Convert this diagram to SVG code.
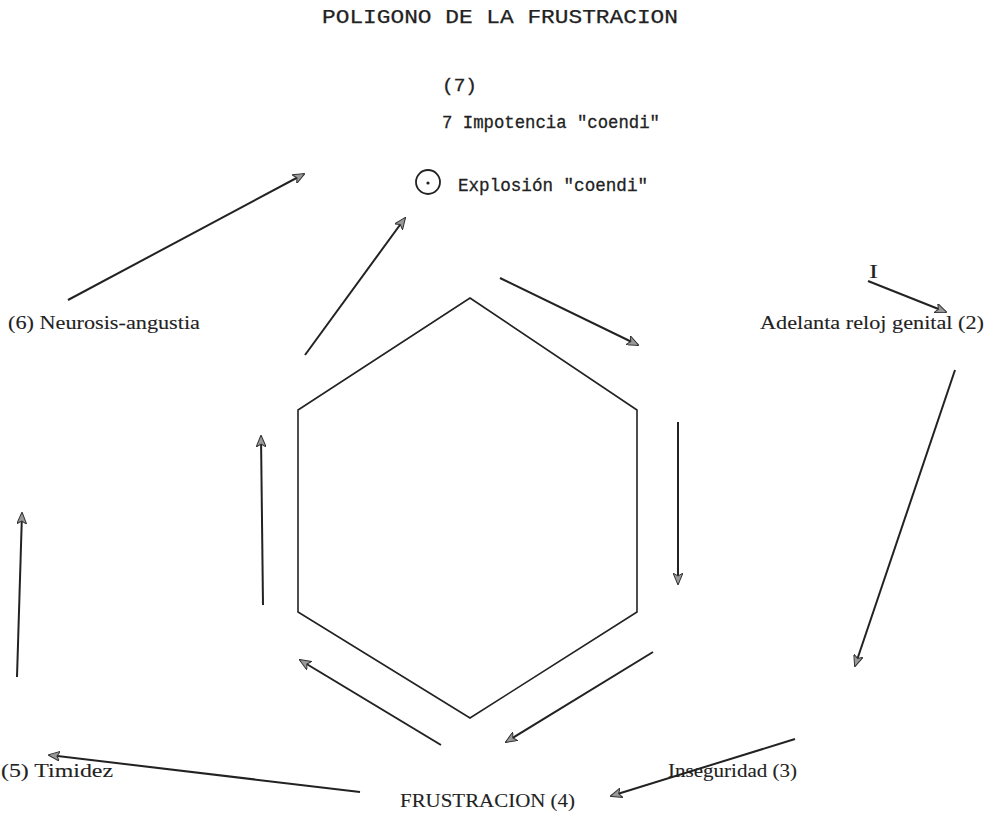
<svg xmlns="http://www.w3.org/2000/svg" width="998" height="815" viewBox="0 0 998 815">
<defs>
<marker id="ah" viewBox="0 0 12 10" refX="11" refY="5" markerWidth="12" markerHeight="10" markerUnits="userSpaceOnUse" orient="auto">
<path d="M0,0 L12,5 L0,10 L3,5 Z" fill="#999" stroke="#333" stroke-width="1"/>
</marker>
</defs>
<style>
text{fill:#222;stroke:#222}
.t{font-family:"Liberation Mono","Courier New",monospace;font-size:21px;stroke-width:0.25}
.s{font-family:"Liberation Mono","Courier New",monospace;font-size:18.5px;stroke-width:0.3}
.l{font-family:"Liberation Serif","Times New Roman",serif;font-size:19px;stroke-width:0.1}
.c{stroke:#222;stroke-width:2;fill:none;marker-end:url(#ah)}
.h{stroke:#222;stroke-width:1.6;fill:none}
</style>
<rect width="998" height="815" fill="#fff"/>
<g id="title"><text class="t" x="322" y="23" textLength="356" lengthAdjust="spacingAndGlyphs">POLIGONO DE LA FRUSTRACION</text></g>
<g id="n7">
<text class="s" x="442" y="91" textLength="35" lengthAdjust="spacingAndGlyphs">(7)</text>
<text class="s" x="442" y="128" textLength="218" lengthAdjust="spacingAndGlyphs">7 Impotencia "coendi"</text>
<circle cx="428" cy="182" r="12" fill="none" stroke="#222" stroke-width="1.8"/>
<circle cx="428" cy="183" r="1.6" fill="#222"/>
<text class="s" x="458" y="191" textLength="190" lengthAdjust="spacingAndGlyphs">Explosión "coendi"</text>
</g>
<g id="hexagon"><polygon class="h" points="470,298 637,410 637,612 470,718 298,612 298,410"/></g>
<g id="nI"><text class="l" x="869" y="278" textLength="9" lengthAdjust="spacingAndGlyphs">I</text></g>
<g id="n2"><text class="l" x="760" y="329" textLength="224" lengthAdjust="spacingAndGlyphs">Adelanta reloj genital (2)</text></g>
<g id="n6"><text class="l" x="8" y="329" textLength="192" lengthAdjust="spacingAndGlyphs">(6) Neurosis-angustia</text></g>
<g id="n3"><text class="l" x="668" y="777" textLength="129" lengthAdjust="spacingAndGlyphs">Inseguridad (3)</text></g>
<g id="n5"><text class="l" x="1" y="777" textLength="112" lengthAdjust="spacingAndGlyphs">(5) Timidez</text></g>
<g id="n4"><text class="l" x="400" y="807" textLength="175" lengthAdjust="spacingAndGlyphs">FRUSTRACION (4)</text></g>
<g id="connectors">
<line class="c" x1="500" y1="278" x2="638" y2="345"/>
<line class="c" x1="678" y1="422" x2="678" y2="584"/>
<line class="c" x1="653" y1="652" x2="506" y2="742"/>
<line class="c" x1="441" y1="745" x2="300" y2="660"/>
<line class="c" x1="263" y1="605" x2="261" y2="436"/>
<line class="c" x1="305" y1="355" x2="405" y2="218"/>
<line class="c" x1="68" y1="300" x2="304" y2="174"/>
<line class="c" x1="17" y1="677" x2="22" y2="513"/>
<line class="c" x1="360" y1="792" x2="49" y2="755"/>
<line class="c" x1="795" y1="739" x2="611" y2="796"/>
<line class="c" x1="955" y1="370" x2="855" y2="666"/>
<line class="c" x1="868" y1="281" x2="946" y2="312"/>
</g>
</svg>
